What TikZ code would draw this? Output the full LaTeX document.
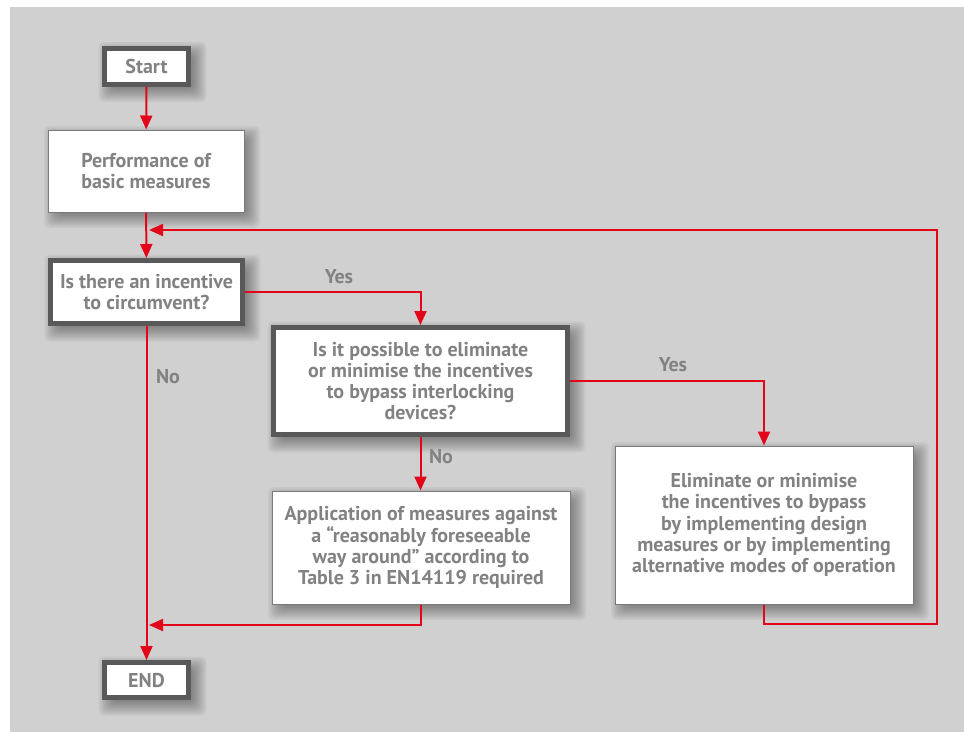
\documentclass[tikz,border=0pt]{standalone}
\usepackage{fontspec}
\setmainfont{PT Sans}
\usetikzlibrary{arrows.meta,calc}
\pgfdeclarelayer{bglayer}
\pgfdeclarelayer{shadowlayer}
\pgfsetlayers{bglayer,shadowlayer,main}
\definecolor{bg}{HTML}{D0D0D0}
\definecolor{dark}{HTML}{595959}
\definecolor{txt}{HTML}{828282}
\definecolor{thin}{HTML}{7A7A7A}
\definecolor{rd}{HTML}{E3061A}
\tikzset{
  base/.style={fill=white, text=txt, font=\fontsize{20}{21.2}\selectfont\bfseries, align=center, inner sep=0pt},
  thickbox/.style={base, draw=dark, line width=5pt},
  thinbox/.style={base, draw=thin, line width=1pt},
  flow/.style={draw=rd, line width=2pt, -{Triangle[width=12pt,length=14pt]}},
  lbl/.style={text=txt, font=\fontsize{20}{21}\selectfont\bfseries, inner sep=0pt},
  shadowpiece/.style={fill=black, opacity=0.04, rounded corners=5pt}
}
\newcommand\boxshadow[1]{%
  \begin{pgfonlayer}{shadowlayer}
  \foreach \s in {-4,-2.5,-1,0.5,2,3.5,5,6.5,8,9.5} {
    \fill[shadowpiece] ($(#1.north west)+(6-\s,6-\s)$) rectangle ($(#1.south east)+(6+\s,6+\s)$);
  }
  \end{pgfonlayer}}
\begin{document}
\begin{tikzpicture}[x=1pt,y=-1pt]
\begin{pgfonlayer}{bglayer}
\fill[white] (0,0) rectangle (964,732);
\fill[bg] (10,7) rectangle (964,732);
\end{pgfonlayer}
\useasboundingbox (0,0) rectangle (964,732);

\node[thickbox, minimum width=84pt, minimum height=36pt] (start) at (146.5,66) {Start};
\node[thinbox, minimum width=196pt, minimum height=82pt] (perf) at (146,171) {Performance of\\basic measures};
\node[thickbox, minimum width=192pt, minimum height=63pt] (inc) at (146.5,292) {Is there an incentive\\to circumvent?};
\node[thickbox, minimum width=294pt, minimum height=107pt] (q2) at (420.5,381) {Is it possible to eliminate\\or minimise the incentives\\to bypass interlocking\\devices?};
\node[thinbox, minimum width=298pt, minimum height=113pt] (app) at (421,547.5) {Application of measures against\\a \textquotedblleft reasonably foreseeable\\way around\textquotedblright\ according to\\Table 3 in EN14119 required};
\node[thinbox, minimum width=298pt, minimum height=158pt] (elim) at (764,525) {Eliminate or minimise\\the incentives to bypass\\by implementing design\\measures or by implementing\\alternative modes of operation};
\node[thickbox, minimum width=84pt, minimum height=35pt] (end) at (146.5,680) {END};

\boxshadow{start}
\boxshadow{perf}
\boxshadow{inc}
\boxshadow{q2}
\boxshadow{app}
\boxshadow{elim}
\boxshadow{end}

\coordinate (j1) at (149,625);
\coordinate (r1) at (937,624);
\coordinate (j2) at (149,230);

\draw[flow] (start) -- (perf);
\draw[flow] (perf) -- (inc);
\draw[flow] (inc.east) -| (q2.north);
\draw[flow] (q2.east) -| (elim.north);
\draw[flow] (q2.south) -- (q2.south |- app.north);
\draw[flow] (inc.south) -- (end.north);
\draw[flow] (app.south) |- (j1);
\draw[flow] (elim.south) |- (r1) |- (j2);

\node[lbl] (l1) at (339,277) {Yes};
\node[lbl] (l2) at (168,377) {No};
\node[lbl] (l3) at (673,365) {Yes};
\node[lbl] (l4) at (441,457) {No};
\end{tikzpicture}
\end{document}
